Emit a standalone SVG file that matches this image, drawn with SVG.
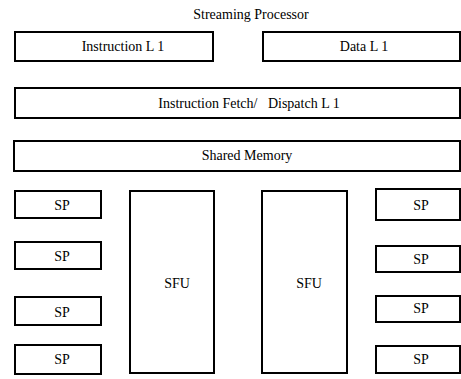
<svg xmlns="http://www.w3.org/2000/svg" width="461" height="379" viewBox="0 0 461 379">
<style>
rect{fill:#fff;stroke:#000;stroke-width:2}
text{font-family:"Liberation Serif","Times New Roman","DejaVu Serif",serif;font-size:14px;fill:#000;text-anchor:middle}
</style>
<rect x="0" y="0" width="461" height="379" style="stroke:none"/>
<text x="251" y="19">Streaming Processor</text>
<g id="instr-l1"><rect x="15" y="32" width="198" height="29"/><text x="123" y="51">Instruction L 1</text></g>
<g id="data-l1"><rect x="263" y="32" width="197" height="29"/><text x="364" y="51">Data L 1</text></g>
<g id="fetch"><rect x="15" y="88" width="445" height="30"/><text x="249" y="108">Instruction Fetch/ &#160; Dispatch L 1</text></g>
<g id="shared"><rect x="14" y="141" width="446" height="30"/><text x="247" y="160">Shared Memory</text></g>
<g id="sp-l1"><rect x="15" y="191" width="86" height="27"/><text x="62" y="210">SP</text></g>
<g id="sp-l2"><rect x="15" y="242" width="86" height="27"/><text x="62" y="261">SP</text></g>
<g id="sp-l3"><rect x="15" y="297" width="86" height="28"/><text x="62" y="317">SP</text></g>
<g id="sp-l4"><rect x="15" y="345" width="86" height="29"/><text x="62" y="364">SP</text></g>
<g id="sfu-l"><rect x="130" y="191" width="84" height="182"/><text x="177" y="288">SFU</text></g>
<g id="sfu-r"><rect x="262" y="191" width="85" height="182"/><text x="309" y="288">SFU</text></g>
<g id="sp-r1"><rect x="376" y="189" width="84" height="31"/><text x="421" y="210">SP</text></g>
<g id="sp-r2"><rect x="376" y="246" width="84" height="26"/><text x="421" y="264">SP</text></g>
<g id="sp-r3"><rect x="376" y="296" width="84" height="26"/><text x="421" y="313">SP</text></g>
<g id="sp-r4"><rect x="376" y="346" width="84" height="27"/><text x="421" y="364">SP</text></g>
<g id="connectors"></g>
</svg>
